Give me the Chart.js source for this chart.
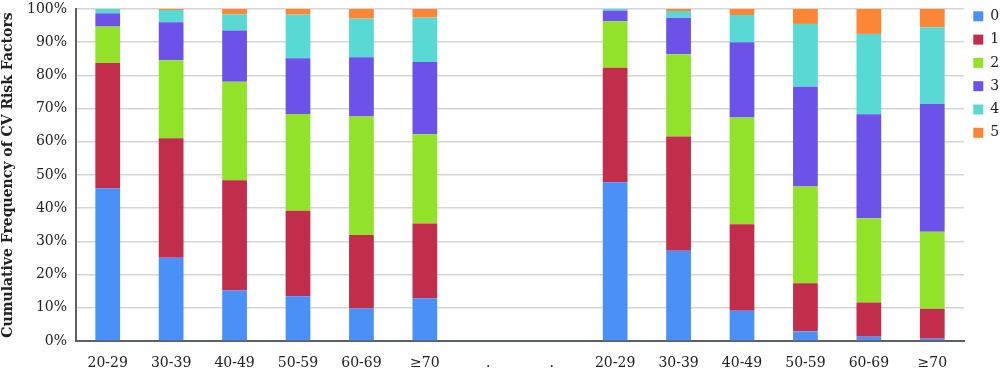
<!DOCTYPE html>
<html>
<head>
<meta charset="utf-8">
<script src="https://cdn.jsdelivr.net/npm/chart.js@4"></script>
<style>
  html, body { margin: 0; padding: 0; background: #fff; }
  #wrap { width: 1000px; height: 372px; }
</style>
</head>
<body>
<div id="wrap"><canvas id="chart"></canvas></div>
<script>
// age groups (two panels separated by two empty "." slots)
const ageGroups = ['20-29', '30-39', '40-49', '50-59', '60-69', '\u226570', '.', '.', '20-29', '30-39', '40-49', '50-59', '60-69', '\u226570'];

// percentage of people with 0..5 CV risk factors
const riskLabels = ['0', '1', '2', '3', '4', '5'];
const risk0 = [46.0, 25.1, 15.2, 13.5, 9.8, 12.9, null, null, 47.8, 27.2, 9.1, 2.9, 1.3, 0.7];
const risk1 = [37.7, 36.0, 33.2, 25.7, 22.1, 22.5, null, null, 34.5, 34.4, 26.1, 14.5, 10.3, 9.0];
const risk2 = [11.0, 23.5, 29.7, 29.2, 35.7, 26.9, null, null, 14.0, 24.8, 32.1, 29.1, 25.4, 23.2];
const risk3 = [4.0, 11.4, 15.4, 16.8, 17.9, 21.7, null, null, 3.2, 11.0, 22.7, 30.1, 31.3, 38.5];
const risk4 = [1.3, 3.7, 4.9, 13.1, 11.6, 13.4, null, null, 0.5, 2.0, 8.2, 18.9, 24.2, 23.1];
const risk5 = [0.0, 0.3, 1.6, 1.7, 2.9, 2.6, null, null, 0.0, 0.6, 1.8, 4.5, 7.5, 5.5];

const yTicks = [0, 10, 20, 30, 40, 50, 60, 70, 80, 90, 100];

const colors = ['#4a90f7', '#c22d4b', '#92e22a', '#6d52e9', '#58d9d3', '#fd8536'];
const series = [risk0, risk1, risk2, risk3, risk4, risk5];

const serif = '"DejaVu Serif", serif';

new Chart(document.getElementById('chart'), {
  type: 'bar',
  data: {
    labels: ageGroups,
    datasets: series.map((s, i) => ({
      label: riskLabels[i],
      data: s,
      backgroundColor: colors[i],
      borderWidth: 0,
      categoryPercentage: 0.39,
      barPercentage: 1.0
    }))
  },
  options: {
    responsive: true,
    maintainAspectRatio: false,
    animation: false,
    layout: { padding: 0 },
    plugins: {
      tooltip: { enabled: false },
      legend: {
        position: 'right',
        align: 'start',
        maxWidth: 36,
        labels: {
          boxWidth: 10,
          boxHeight: 10,
          padding: 9.3,
          color: '#222',
          font: { family: serif, size: 14 }
        }
      }
    },
    scales: {
      x: {
        stacked: true,
        grid: { display: false, drawTicks: false },
        border: { color: '#5b6066', width: 2 },
        ticks: {
          color: '#222',
          padding: 14,
          maxRotation: 0,
          autoSkip: false,
          font: { family: serif, size: 14 }
        },
        afterFit: (scale) => { scale.height = 31; }
      },
      y: {
        stacked: true,
        min: 0,
        max: 100,
        afterBuildTicks: (scale) => { scale.ticks = yTicks.map(v => ({ value: v })); },
        grid: { color: '#d6d6d6', lineWidth: 1.5, drawTicks: false },
        border: { color: '#5b6066', width: 2 },
        ticks: {
          color: '#222',
          padding: 9,
          callback: (v) => v + '%',
          font: { family: serif, size: 14 }
        },
        title: {
          display: true,
          text: 'Cumulative Frequency of CV Risk Factors',
          color: '#222',
          padding: { top: 0, bottom: 4 },
          font: { family: serif, size: 14, weight: 'bold' }
        },
        afterFit: (scale) => {
          scale.width = 76;
          scale.paddingTop = 9;
        }
      }
    }
  }
});
</script>
</body>
</html>
